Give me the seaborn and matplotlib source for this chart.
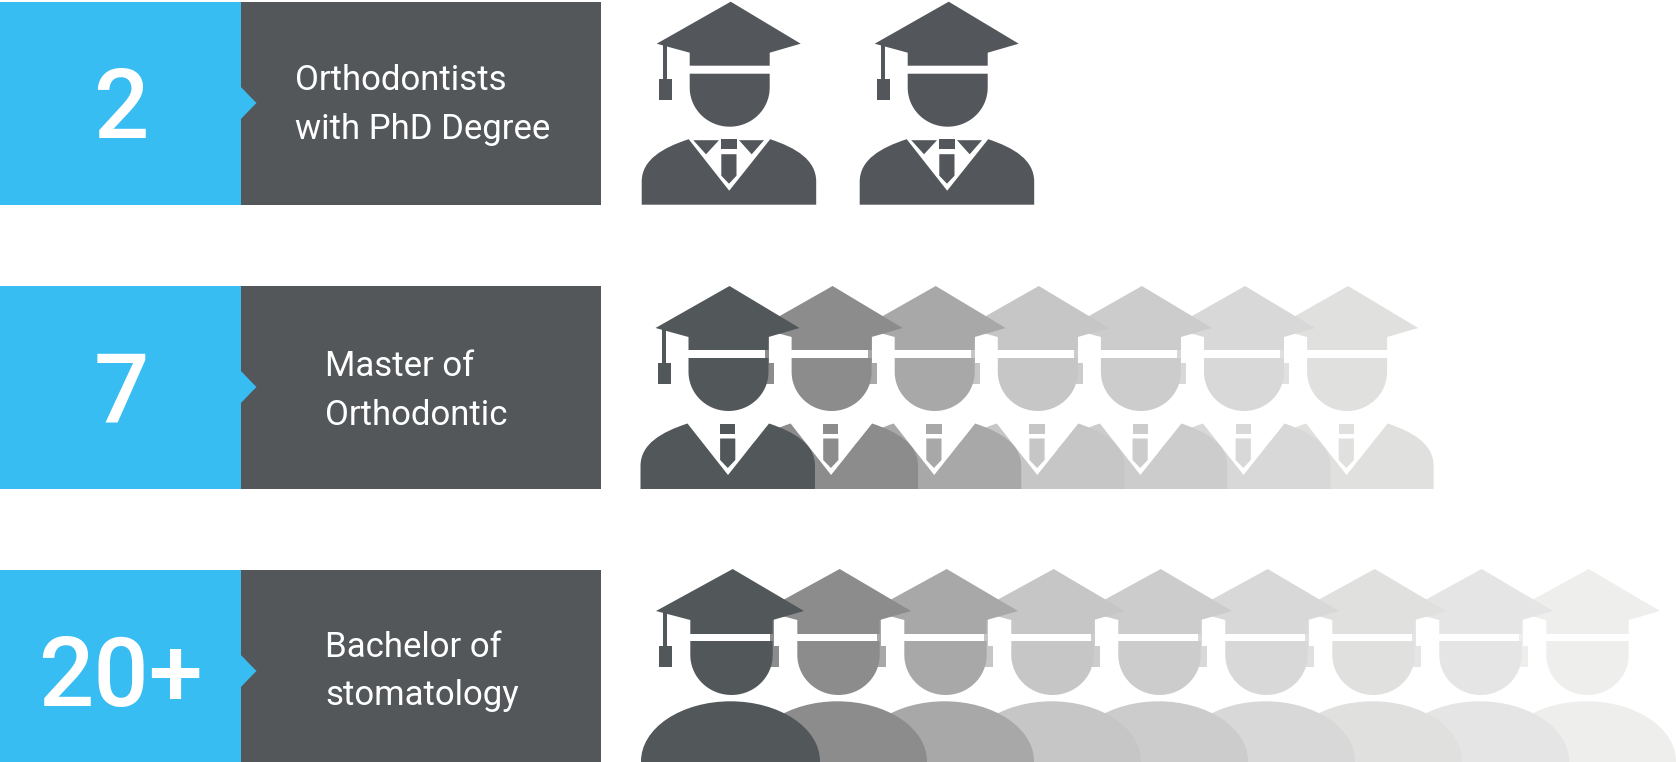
import numpy as np
import pandas as pd
import matplotlib
matplotlib.use('Agg')
import matplotlib.pyplot as plt
from matplotlib.patches import PathPatch, Polygon, Ellipse
from matplotlib.path import Path
import seaborn as sns

# Data
counts = ['2', '7', '20+']
labels = [('Orthodontists', 'with PhD Degree'), ('Master of', 'Orthodontic'), ('Bachelor of', 'stomatology')]
icons_shown = [2, 7, 9]
row_shades = [
    ['#53565A', '#53565A'],
    ['#525759', '#8C8C8C', '#A8A8A8', '#C6C6C6', '#CCCCCC', '#D8D8D8', '#E0E0DE'],
    ['#525759', '#8C8C8C', '#A8A8A8', '#C6C6C6', '#CCCCCC', '#D8D8D8', '#E0E0DE', '#E5E5E5', '#EEEEEC'],
]

# Layout in pixels of the 1676x762 canvas
W, H = 1676, 762
ROW_CENTER = [103, 387, 671]
ROW_HEIGHT = 203
BLUE_END = 240.5
DARK_END = 601
LABEL_X = [295, 325, 325]
BASE_1 = [90, 376, 657]
BASE_2 = [139, 425, 705]
ICON_X = [730.7, 729.5, 732.7]
ICON_TOP = [1.7, 286, 569]
ICON_STEP = [218, 103.1, 107]
BLUE = '#38BDF2'
DARK = '#53575A'
FONT = ['Roboto', 'DejaVu Sans']


def shape(ax, verts, codes, color, z):
    ax.add_patch(PathPatch(Path(verts, codes), facecolor=color, edgecolor='none', zorder=z))


def poly(ax, pts, color, z):
    ax.add_patch(Polygon(pts, closed=True, facecolor=color, edgecolor='none', zorder=z))


def draw_cap_and_face(ax, cx, top, color, z, narrow=True):
    p = (lambda pts: [(cx + a, top + b) for a, b in pts])
    if narrow:
        left, right, wing_l, wing_r, under, face_top, face_bot = -41, 39, -74, 70, 64, 72, 125
        st0, st1, ta0, ta1, ta_top, ta_bot = -68, -63.7, -72, -59, 77, 98
    else:
        left, right, wing_l, wing_r, under, face_top, face_bot = -42.4, 40, -76.7, 71.3, 65, 72, 126
        st0, st1, ta0, ta1, ta_top, ta_bot = -69.4, -65.4, -73.7, -61, 77, 98.3
    poly(ax, p([(0, 0), (wing_r, 42), (right, 51), (right, under), (left, under), (left, 51), (wing_l, 42)]), color, z)
    poly(ax, p([(st0, 42), (st1, 42), (st1, ta_top), (st0, ta_top)]), color, z)
    poly(ax, p([(ta0, ta_top), (ta1, ta_top), (ta1, ta_bot), (ta0, ta_bot)]), color, z)
    # face: flat top, half ellipse below
    mid = (left + right) / 2
    rx = (right - left) / 2
    t = np.linspace(0, np.pi, 40)
    arc = [(mid + rx * np.cos(a), 86 + (face_bot - 86) * np.sin(a)) for a in t]
    poly(ax, p([(right, face_top)] + arc + [(left, face_top)]), color, z)


def draw_suit(ax, cx, top, color, z, lapels):
    p = (lambda pts: [(cx + a, top + b) for a, b in pts])
    # white collar hides whoever stands behind
    poly(ax, p([(-42, 137.5), (39.5, 137.5), (-1.5, 189)]), 'white', z)
    verts = p([(-89, 203), (-89, 180), (-89, 158), (-68, 146), (-42, 137.5), (-1.5, 189), (39.5, 137.5),
               (65, 146), (85.5, 158), (85.5, 180), (85.5, 203), (-89, 203)])
    codes = [Path.MOVETO, Path.LINETO, Path.CURVE4, Path.CURVE4, Path.CURVE4, Path.LINETO, Path.LINETO,
             Path.CURVE4, Path.CURVE4, Path.CURVE4, Path.LINETO, Path.CLOSEPOLY]
    shape(ax, verts, codes, color, z)
    poly(ax, p([(-9.4, 137.5), (5.8, 137.5), (5.8, 147.5), (-9.4, 147.5)]), color, z)
    poly(ax, p([(-9.4, 152.5), (5.8, 152.5), (5.8, 174), (-1.7, 182), (-9.4, 174)]), color, z)
    if lapels:
        poly(ax, p([(-37.4, 138.5), (-11.7, 138.5), (-24.7, 152.6)]), color, z)
        poly(ax, p([(8.3, 138.5), (33.3, 138.5), (21, 152.6)]), color, z)


def draw_gown(ax, cx, top, color, z):
    ax.add_patch(Ellipse((cx - 2.2, top + 192.3), 179, 120, facecolor=color, edgecolor='none', zorder=z))


sns.set_theme(style='white')
plt.rcParams['font.family'] = FONT

fig = plt.figure(figsize=(W / 100, H / 100), dpi=100)
ax = fig.add_axes([0, 0, 1, 1])

df = pd.DataFrame({'center': ROW_CENTER, 'dark': [DARK_END] * 3, 'blue': [BLUE_END] * 3})
bar_w = ROW_HEIGHT / (ROW_CENTER[1] - ROW_CENTER[0])
sns.barplot(data=df, x='dark', y='center', orient='h', native_scale=True, width=bar_w,
            color=DARK, saturation=1, linewidth=0, ax=ax, zorder=1)
sns.barplot(data=df, x='blue', y='center', orient='h', native_scale=True, width=bar_w,
            color=BLUE, saturation=1, linewidth=0, ax=ax, zorder=2)

for r in range(3):
    c = ROW_CENTER[r]
    # little arrow from the blue block
    poly(ax, [(BLUE_END - 1, c - 17.5), (BLUE_END + 11, c - 5), (BLUE_END + 16, c), (BLUE_END + 11, c + 5),
              (BLUE_END - 1, c + 17.5)], BLUE, 3)
    ax.text(121, c + 35, counts[r], color='white', fontsize=70, fontweight='medium', ha='center',
            va='baseline', zorder=4)
    ax.text(LABEL_X[r], BASE_1[r], labels[r][0], color='white', fontsize=25, ha='left', va='baseline', zorder=4)
    ax.text(LABEL_X[r], BASE_2[r], labels[r][1], color='white', fontsize=25, ha='left', va='baseline', zorder=4)

    # front person is the first one, so it goes on top
    for i in range(icons_shown[r] - 1, -1, -1):
        z = 10 + (icons_shown[r] - i)
        cx = ICON_X[r] + i * ICON_STEP[r]
        shade = row_shades[r][i]
        if r == 2:
            draw_gown(ax, cx, ICON_TOP[r], shade, z)
            draw_cap_and_face(ax, cx, ICON_TOP[r], shade, z, narrow=False)
        else:
            draw_suit(ax, cx, ICON_TOP[r], shade, z, lapels=(r == 0))
            draw_cap_and_face(ax, cx, ICON_TOP[r], shade, z)

ax.set_xlim(0, W)
ax.set_ylim(H, 0)
ax.set_xlabel('')
ax.set_ylabel('')
ax.axis('off')

fig.savefig('out.png', dpi=100, facecolor='white')
